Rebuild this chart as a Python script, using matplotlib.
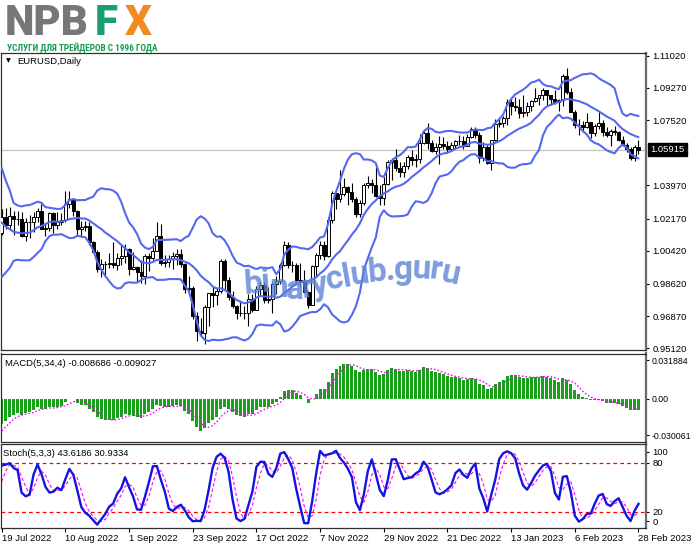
import numpy as np
import matplotlib
matplotlib.use('Agg')
import matplotlib.pyplot as plt
from matplotlib import transforms, font_manager
from matplotlib.font_manager import FontProperties

plt.rcParams['font.family'] = ['Liberation Sans', 'DejaVu Sans']

# ---------------- data (EURUSD daily) ----------------
# warm-up bars before the first visible bar (used only by the indicators)
pre_high = [1.0593, 1.0697, 1.0749, 1.0737, 1.0736, 1.0765, 1.0787, 1.0770, 1.0765, 1.0751,
            1.0764, 1.0752, 1.0710, 1.0748, 1.0774, 1.0636, 1.0520, 1.0480, 1.0506, 1.0601,
            1.0555, 1.0544, 1.0583, 1.0605, 1.0575, 1.0570, 1.0615, 1.0606, 1.0530, 1.0486,
            1.0487, 1.0462, 1.0428, 1.0275, 1.0222, 1.0191, 1.0164, 1.0073, 1.0122, 1.0080,
            1.0098, 1.0200]
pre_low = [1.0532, 1.0560, 1.0642, 1.0642, 1.0662, 1.0700, 1.0720, 1.0680, 1.0627, 1.0640,
           1.0702, 1.0690, 1.0653, 1.0672, 1.0613, 1.0506, 1.0398, 1.0359, 1.0358, 1.0382,
           1.0444, 1.0487, 1.0505, 1.0470, 1.0490, 1.0510, 1.0540, 1.0508, 1.0437, 1.0382,
           1.0365, 1.0419, 1.0235, 1.0162, 1.0145, 1.0072, 1.0034, 0.9999, 0.9998, 0.9952,
           1.0004, 1.0078]
pre_close = [1.0562, 1.0690, 1.0733, 1.0677, 1.0725, 1.0733, 1.0778, 1.0734, 1.0648, 1.0750,
             1.0719, 1.0695, 1.0704, 1.0716, 1.0616, 1.0519, 1.0407, 1.0415, 1.0445, 1.0545,
             1.0495, 1.0510, 1.0536, 1.0567, 1.0520, 1.0554, 1.0583, 1.0518, 1.0442, 1.0482,
             1.0425, 1.0425, 1.0265, 1.0182, 1.0162, 1.0185, 1.0040, 1.0036, 1.0061, 1.0020,
             1.0085, 1.0141]

# visible bars: 19 Jul 2022 .. 28 Feb 2023
highs = [1.0269, 1.0273, 1.0278, 1.0258, 1.0258, 1.0250, 1.0218, 1.0236, 1.0254, 1.0274,
         1.0294, 1.0195, 1.0254, 1.0254, 1.0250, 1.0248, 1.0368, 1.0368, 1.0330, 1.0266,
         1.0203, 1.0202, 1.0201, 1.0093, 1.0046, 0.9999, 0.9985, 1.0029, 1.0090, 1.0028,
         1.0080, 1.0079, 1.0056, 1.0033, 0.9958, 0.9990, 1.0025, 1.0030, 1.0114, 1.0198,
         1.0186, 1.0020, 1.0017, 1.0037, 1.0050, 1.0051, 0.9976, 0.9907, 0.9852, 0.9710,
         0.9675, 0.9750, 0.9815, 0.9853, 0.9840, 0.9999, 0.9998, 0.9900, 0.9823, 0.9750,
         0.9765, 0.9741, 0.9808, 0.9809, 0.9849, 0.9875, 0.9872, 0.9845, 0.9870, 0.9905,
         0.9977, 1.0094, 1.0090, 0.9988, 0.9977, 0.9976, 0.9935, 0.9825, 0.9965, 1.0030,
         1.0094, 1.0095, 1.0223, 1.0366, 1.0362, 1.0480, 1.0438, 1.0393, 1.0408, 1.0335,
         1.0319, 1.0412, 1.0448, 1.0433, 1.0497, 1.0400, 1.0444, 1.0534, 1.0545, 1.0595,
         1.0525, 1.0527, 1.0562, 1.0590, 1.0568, 1.0674, 1.0695, 1.0737, 1.0645, 1.0630,
         1.0667, 1.0658, 1.0640, 1.0635, 1.0646, 1.0672, 1.0665, 1.0675, 1.0714, 1.0712,
         1.0685, 1.0634, 1.0618, 1.0646, 1.0760, 1.0760, 1.0777, 1.0866, 1.0874, 1.0875,
         1.0866, 1.0887, 1.0848, 1.0859, 1.0928, 1.0890, 1.0929, 1.0905, 1.0890, 1.0914,
         1.0867, 1.1000, 1.1033, 1.0925, 1.0805, 1.0756, 1.0747, 1.0790, 1.0743, 1.0733,
         1.0804, 1.0750, 1.0716, 1.0705, 1.0720, 1.0694, 1.0667, 1.0626, 1.0604, 1.0615,
         1.0645]
lows = [1.0129, 1.0160, 1.0153, 1.0130, 1.0183, 1.0115, 1.0097, 1.0114, 1.0146, 1.0198,
        1.0160, 1.0123, 1.0147, 1.0141, 1.0159, 1.0180, 1.0200, 1.0273, 1.0232, 1.0123,
        1.0122, 1.0150, 1.0075, 1.0033, 0.9926, 0.9901, 0.9910, 0.9951, 0.9947, 0.9937,
        0.9966, 0.9976, 0.9910, 0.9935, 0.9877, 0.9865, 0.9864, 0.9930, 0.9990, 1.0040,
        0.9966, 0.9955, 0.9956, 0.9945, 0.9966, 0.9956, 0.9810, 0.9807, 0.9670, 0.9553,
        0.9572, 0.9535, 0.9635, 0.9737, 0.9750, 0.9815, 0.9835, 0.9777, 0.9730, 0.9670,
        0.9690, 0.9670, 0.9632, 0.9712, 0.9723, 0.9800, 0.9758, 0.9760, 0.9705, 0.9805,
        0.9862, 0.9960, 0.9950, 0.9929, 0.9871, 0.9852, 0.9814, 0.9730, 0.9747, 0.9906,
        0.9997, 0.9990, 1.0008, 1.0194, 1.0271, 1.0305, 1.0340, 1.0290, 1.0305, 1.0225,
        1.0226, 1.0290, 1.0385, 1.0358, 1.0335, 1.0290, 1.0290, 1.0400, 1.0427, 1.0475,
        1.0443, 1.0444, 1.0488, 1.0506, 1.0495, 1.0519, 1.0622, 1.0593, 1.0577, 1.0570,
        1.0513, 1.0595, 1.0573, 1.0590, 1.0600, 1.0617, 1.0596, 1.0609, 1.0655, 1.0655,
        1.0520, 1.0530, 1.0512, 1.0483, 1.0640, 1.0714, 1.0712, 1.0725, 1.0780, 1.0800,
        1.0766, 1.0767, 1.0772, 1.0802, 1.0851, 1.0833, 1.0862, 1.0835, 1.0836, 1.0838,
        1.0800, 1.0826, 1.0894, 1.0794, 1.0708, 1.0669, 1.0687, 1.0711, 1.0655, 1.0665,
        1.0705, 1.0665, 1.0660, 1.0612, 1.0670, 1.0638, 1.0610, 1.0577, 1.0533, 1.0532,
        1.0570]
closes = [1.0226, 1.0180, 1.0229, 1.0212, 1.0214, 1.0120, 1.0200, 1.0197, 1.0224, 1.0260,
          1.0162, 1.0167, 1.0245, 1.0182, 1.0197, 1.0211, 1.0298, 1.0321, 1.0257, 1.0161,
          1.0169, 1.0177, 1.0088, 1.0037, 0.9943, 0.9968, 0.9970, 0.9975, 0.9964, 1.0004,
          1.0016, 1.0054, 0.9945, 0.9955, 0.9925, 0.9905, 1.0012, 1.0002, 1.0042, 1.0121,
          0.9974, 0.9980, 0.9998, 1.0014, 1.0025, 0.9969, 0.9836, 0.9837, 0.9689, 0.9607,
          0.9594, 0.9737, 0.9815, 0.9799, 0.9825, 0.9986, 0.9884, 0.9792, 0.9743, 0.9705,
          0.9704, 0.9704, 0.9778, 0.9722, 0.9836, 0.9857, 0.9774, 0.9778, 0.9860, 0.9877,
          0.9965, 1.0076, 0.9963, 0.9966, 0.9882, 0.9875, 0.9819, 0.9750, 0.9960, 1.0019,
          1.0074, 1.0013, 1.0209, 1.0355, 1.0325, 1.0348, 1.0390, 1.0363, 1.0325, 1.0243,
          1.0303, 1.0402, 1.0408, 1.0399, 1.0342, 1.0329, 1.0405, 1.0523, 1.0537, 1.0490,
          1.0469, 1.0505, 1.0554, 1.0533, 1.0539, 1.0630, 1.0682, 1.0627, 1.0584, 1.0606,
          1.0622, 1.0609, 1.0596, 1.0615, 1.0640, 1.0637, 1.0612, 1.0662, 1.0705, 1.0670,
          1.0547, 1.0606, 1.0521, 1.0644, 1.0733, 1.0734, 1.0761, 1.0853, 1.0830, 1.0822,
          1.0789, 1.0794, 1.0831, 1.0855, 1.0872, 1.0887, 1.0915, 1.0890, 1.0868, 1.0848,
          1.0863, 1.0990, 1.0906, 1.0795, 1.0725, 1.0727, 1.0712, 1.0740, 1.0680, 1.0722,
          1.0737, 1.0688, 1.0673, 1.0695, 1.0688, 1.0645, 1.0617, 1.0597, 1.0545, 1.0605,
          1.05915]

date_labels = ['19 Jul 2022', '10 Aug 2022', '1 Sep 2022', '23 Sep 2022', '17 Oct 2022',
               '7 Nov 2022', '29 Nov 2022', '21 Dec 2022', '13 Jan 2023', '6 Feb 2023',
               '28 Feb 2023']
date_bar_index = [0, 16, 32, 48, 64, 80, 96, 112, 128, 144, 160]

price_ticks = [1.11020, 1.09270, 1.07520, 1.03970, 1.02170, 1.00420, 0.98620, 0.96870, 0.95120]
current_price = 1.05915
macd_ticks = [0.031884, 0.0, -0.030061]
macd_tick_labels = ['0.031884', '0.00', '-0.030061']
stoch_levels = [20, 80]
stoch_tick_labels = ['0', '20', '80', '100']

bb_period, bb_dev = 14, 2.0
macd_fast, macd_slow, macd_sig = 5, 34, 4
st_k, st_slow, st_d = 5, 3, 3

# ---------------- indicators ----------------
n_pre = len(pre_close)
N = len(closes)
all_c = np.array(pre_close + closes)
all_h = np.array(pre_high + highs)
all_l = np.array(pre_low + lows)
c = np.array(closes)
h = np.array(highs)
l = np.array(lows)
o = all_c[n_pre - 1:n_pre - 1 + N]          # open = previous close
xs = np.arange(N)
idx = range(n_pre, n_pre + N)

bb_mid = np.array([all_c[i - bb_period + 1:i + 1].mean() for i in idx])
bb_sd = np.array([all_c[i - bb_period + 1:i + 1].std() for i in idx])
bb_up = bb_mid + bb_dev * bb_sd
bb_lo = bb_mid - bb_dev * bb_sd


def ema(v, p):
    a = 2.0 / (p + 1)
    out = np.empty(len(v))
    out[0] = v[0]
    for i in range(1, len(v)):
        out[i] = a * v[i] + (1 - a) * out[i - 1]
    return out


macd_all = ema(all_c, macd_fast) - ema(all_c, macd_slow)
macd = np.array([macd_all[i] for i in idx])
macd_signal = np.array([macd_all[i - macd_sig + 1:i + 1].mean() for i in idx])

num = np.zeros(len(all_c))
den = np.zeros(len(all_c))
for i in range(st_k - 1, len(all_c)):
    ll = all_l[i - st_k + 1:i + 1].min()
    hh = all_h[i - st_k + 1:i + 1].max()
    num[i] = all_c[i] - ll
    den[i] = hh - ll
k_all = np.full(len(all_c), np.nan)
for i in range(st_k + st_slow, len(all_c)):
    k_all[i] = 100.0 * num[i - st_slow + 1:i + 1].sum() / den[i - st_slow + 1:i + 1].sum()
stoch_k = np.array([k_all[i] for i in idx])
stoch_d = np.array([k_all[i - st_d + 1:i + 1].mean() for i in idx])

# ---------------- figure ----------------
W, H = 691, 549
fig = plt.figure(figsize=(W / 100, H / 100), dpi=100)
fig.patch.set_facecolor('white')


def rect(lft, top, rgt, bot):
    return [lft / W, 1 - bot / H, (rgt - lft) / W, (bot - top) / H]


ax = fig.add_axes(rect(0.5, 53, 646, 350))
axm = fig.add_axes(rect(0.5, 353.5, 646, 441.5))
axs = fig.add_axes(rect(0.5, 444, 646, 528))

x0 = -0.3
x1 = x0 + 645.5 / 3.98
FS = 6.8

for a in (ax, axm, axs):
    a.set_xlim(x0, x1)
    a.set_facecolor('white')
    for s in ('left', 'top', 'bottom'):
        a.spines[s].set_color('#303030')
        a.spines[s].set_linewidth(0.9)
    a.spines['right'].set_color('#6a6a6a')
    a.spines['right'].set_linewidth(1.6)
    a.yaxis.tick_right()
    a.tick_params(axis='y', which='both', right=True, left=False, labelright=True,
                  labelleft=False, direction='out', length=2.5, width=0.8, pad=2,
                  labelsize=FS, colors='black')
    a.tick_params(axis='x', bottom=False, labelbottom=False)

# ---- main price panel ----
ax.set_ylim(0.95028, 1.11167)
ax.axhline(current_price, color='#c4c4c4', lw=0.9, zorder=1)
lo_w = np.minimum(l, np.minimum(o, c))
hi_w = np.maximum(h, np.maximum(o, c))
ax.vlines(xs, lo_w, hi_w, color='black', lw=0.8, zorder=3)
up = c >= o
body = np.maximum(np.abs(c - o), 0.00008)
bot = np.minimum(o, c)
ax.bar(xs[up], body[up], bottom=bot[up], width=0.75, facecolor='white',
       edgecolor='black', linewidth=0.7, zorder=4)
ax.bar(xs[~up], body[~up], bottom=bot[~up], width=0.75, facecolor='black',
       edgecolor='black', linewidth=0.7, zorder=4)
bb_color = '#5468f0'
for band in (bb_up, bb_mid, bb_lo):
    ax.plot(xs, band, color=bb_color, lw=1.5, zorder=5, solid_capstyle='round')
ax.set_yticks(price_ticks)
ax.set_yticklabels(['%.5f' % v for v in price_ticks])

trans = transforms.blended_transform_factory(ax.transAxes, ax.transData)
ax.text(1.0, current_price, '1.05915',
        transform=transforms.offset_copy(trans, fig=fig, x=4.5, y=0, units='dots'),
        ha='left', va='center', color='white', fontsize=FS, clip_on=False, zorder=10,
        bbox=dict(boxstyle='square,pad=0.22', facecolor='black', edgecolor='black'))

# ---- MACD panel ----
axm.set_ylim(-0.03502, 0.03742)
axm.bar(xs, macd, width=0.75, color='#18a018', linewidth=0, zorder=2)
axm.plot(xs, macd_signal, color='#ff00ff', lw=1.0, ls=(0, (1.2, 1.4)), zorder=3)
axm.set_yticks(macd_ticks)
axm.set_yticklabels(macd_tick_labels)
axm.tick_params(axis='y', labelsize=6.3, pad=1.5)

# ---- Stochastic panel ----
axs.set_ylim(0.37, 103.2)
for lv in stoch_levels:
    axs.axhline(lv, color='#ff0000', lw=0.9, ls=(0, (3, 2.5)), zorder=1)
axs.plot(xs, stoch_d, color='#ff00ff', lw=0.8, ls=(0, (3, 2)), zorder=2)
axs.plot(xs, stoch_k, color='#1414e0', lw=1.7, zorder=3)
axs.set_yticks([8.9, 20, 80, 93.8])
axs.set_yticklabels(stoch_tick_labels)
axs.set_xticks(date_bar_index)
axs.set_xticklabels(date_labels, ha='left')
axs.tick_params(axis='x', bottom=True, labelbottom=True, direction='out', length=3,
                width=0.8, pad=1.5, labelsize=FS, colors='black')


def ftext(x, y, s, **kw):
    return fig.text(x / W, 1 - y / H, s, **kw)


# ---- panel captions ----
ftext(6, 61, '\u25BC', fontsize=4.5, va='center', ha='left', color='black',
      family=['DejaVu Sans'])
ftext(17, 61, 'EURUSD,Daily', fontsize=FS, va='center', ha='left', color='black')
ftext(5, 363, 'MACD(5,34,4) -0.008686 -0.009027', fontsize=FS, va='center', ha='left')
ftext(3, 453, 'Stoch(5,3,3) 43.6186 30.9334', fontsize=FS, va='center', ha='left')

renderer = fig.canvas.get_renderer()

# ---- logo ----
logo_fam = ['Roboto', 'DejaVu Sans']
LOGO_BASE = 35.3
npb = ftext(5, LOGO_BASE, 'NPB', ha='left', va='baseline', fontsize=32, fontweight='heavy',
            family=logo_fam, color='#777777')
wn = npb.get_window_extent(renderer).width
logo_fs = 32 * 84.0 / wn
npb.set_fontsize(logo_fs)
ftext(106.5, LOGO_BASE, 'F', ha='center', va='baseline', fontsize=logo_fs,
      fontweight='heavy', family=logo_fam, color='#17a06e')
ftext(138.5, LOGO_BASE, 'X', ha='center', va='baseline', fontsize=logo_fs,
      fontweight='heavy', family=logo_fam, color='#f28a22')


def pick_family(cands):
    for f in cands:
        try:
            font_manager.findfont(FontProperties(family=f), fallback_to_default=False)
            return f
        except Exception:
            continue
    return 'DejaVu Sans'


sub_fam = pick_family(['Liberation Sans Narrow', 'Roboto Condensed', 'Roboto'])
sub = ftext(7, 51.5, 'УСЛУГИ ДЛЯ ТРЕЙДЕРОВ С 1996 ГОДА', ha='left', va='baseline',
            fontsize=10, fontweight='bold', family=[sub_fam, 'DejaVu Sans'], color='#179a55')
wsub = sub.get_window_extent(renderer).width
sub.set_fontsize(10 * 151.0 / wsub)

# ---- watermark ----
wm_text = 'binaryclub.guru'
wm_fam = pick_family(['Roboto', 'Open Sans', 'DejaVu Sans'])
wm_prop = FontProperties(family=wm_fam, weight='bold', size=24)


def text_w(s):
    t = fig.text(0, 0, s, fontproperties=wm_prop)
    w = t.get_window_extent(renderer).width
    t.remove()
    return w


rights = [text_w(wm_text[:k + 1]) for k in range(len(wm_text))]
cw = [text_w(ch) for ch in wm_text]
centers = [r - w / 2 for r, w in zip(rights, cw)]
sx = 212.0 / rights[-1]
wm_base = [293, 292, 297, 299, 297, 294, 288, 286, 284, 281, 280, 279, 278, 279, 283]
wm_rot = [4, 4, 0, 0, 8, 12, 12, 10, 8, 5, 0, 0, -3, -8, -12]
for ch, cx, by, rot in zip(wm_text, centers, wm_base, wm_rot):
    ftext(245 + cx * sx, by, ch, ha='center', va='baseline', rotation=rot,
          rotation_mode='anchor', fontproperties=wm_prop, color='#5d83d6', alpha=0.8,
          zorder=20)

fig.savefig('out.png', dpi=100)
